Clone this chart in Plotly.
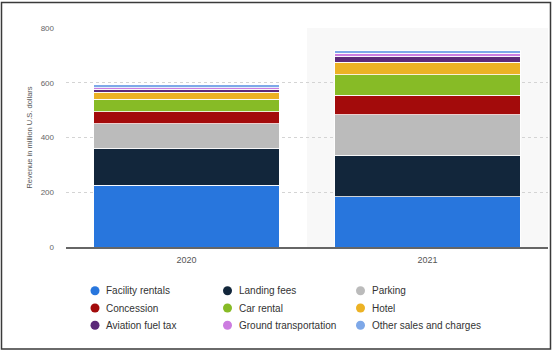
import plotly.graph_objects as go

categories = ["2020", "2021"]
series_names = ["Facility rentals", "Landing fees", "Parking", "Concession", "Car rental",
                "Hotel", "Aviation fuel tax", "Ground transportation", "Other sales and charges"]
facility_rentals = [226, 184]
landing_fees = [135, 152]
parking = [90, 148]
concession = [43, 70]
car_rental = [45, 75]
hotel = [26, 45]
aviation_fuel_tax = [12, 22]
ground_transportation = [5, 11]
other_sales = [9.82, 9.4]
totals = [591.82, 716.4]
y_ticks = [0, 200, 400, 600, 800]

series_values = [facility_rentals, landing_fees, parking, concession, car_rental,
                 hotel, aviation_fuel_tax, ground_transportation, other_sales]
colors = ["#2876dd", "#12263b", "#bbbbbb", "#a30b0b", "#87bb26",
          "#ecb224", "#5c2a79", "#cc7ce0", "#7ea8e8"]

W, H = 558, 353
ML, MR, MT, MB = 66, 10, 28, 106
PW, PH = W - ML - MR, H - MT - MB

def px_x(p):
    return (p - ML) / PW

def px_y(p):
    return (H - MB - p) / PH

fig = go.Figure()
for name, vals, col in zip(series_names, series_values, colors):
    fig.add_trace(go.Bar(
        x=categories, y=vals, name=name, marker_color=col,
        marker_line_color="rgba(255,255,255,0.8)", marker_line_width=1,
        showlegend=False, hoverinfo="skip"))

shapes = [
    dict(type="rect", xref="x", yref="y", x0=0.5, x1=1.5, y0=0, y1=800,
         fillcolor="#f8f8f8", line_width=0, layer="below"),
    dict(type="rect", xref="paper", yref="paper", x0=px_x(1.5), x1=px_x(550.5),
         y0=px_y(349), y1=px_y(2.5), line=dict(color="#3a3a3a", width=1.5),
         fillcolor="rgba(0,0,0,0)", layer="above"),
]

annotations = []
for c, t in zip(categories, totals):
    annotations.append(dict(x=c, y=t, xref="x", yref="y", text=f"{t:g}", showarrow=False,
                            yanchor="bottom", yshift=3,
                            font=dict(family="Liberation Sans, Arial", size=9, color="#333333")))

col_marker = [95, 227.5, 360.5]
col_text = [105, 237.5, 370.5]
row_y = [290.7, 308, 325.3]
for i, (name, col) in enumerate(zip(series_names, colors)):
    r, c = divmod(i, 3)
    shapes.append(dict(type="circle", xref="paper", yref="paper",
                       xsizemode="pixel", ysizemode="pixel",
                       xanchor=px_x(col_marker[c]), yanchor=px_y(row_y[r]),
                       x0=-4.5, x1=4.5, y0=-4.5, y1=4.5,
                       fillcolor=col, line_width=0))
    annotations.append(dict(x=px_x(col_text[c]), y=px_y(row_y[r]), xref="paper", yref="paper",
                            text=name, showarrow=False, xanchor="left", yanchor="middle",
                            borderpad=0,
                            font=dict(family="Liberation Sans, Arial", size=10, color="#333333")))

fig.update_layout(
    width=W, height=H,
    margin=dict(l=ML, r=MR, t=MT, b=MB, pad=0),
    barmode="stack", bargap=0.23,
    plot_bgcolor="white", paper_bgcolor="white",
    showlegend=False,
    shapes=shapes, annotations=annotations,
    font=dict(family="Liberation Sans, Arial", color="#666666"),
)
fig.update_xaxes(range=[-0.5, 1.5], showline=True, linecolor="#666666", linewidth=1.5,
                 showgrid=False, ticks="", ticklabelstandoff=3,
                 tickfont=dict(size=9, color="#555555"))
fig.update_yaxes(range=[0, 800], tickvals=y_ticks, showgrid=True, gridcolor="#d4d4d4",
                 griddash="dot", gridwidth=1, zeroline=False, ticks="", ticklabelstandoff=11,
                 tickfont=dict(size=8, color="#666666"),
                 title=dict(text="Revenue in million U.S. dollars", standoff=7,
                            font=dict(size=7.5, color="#555555")))

fig.write_html("out.html")
